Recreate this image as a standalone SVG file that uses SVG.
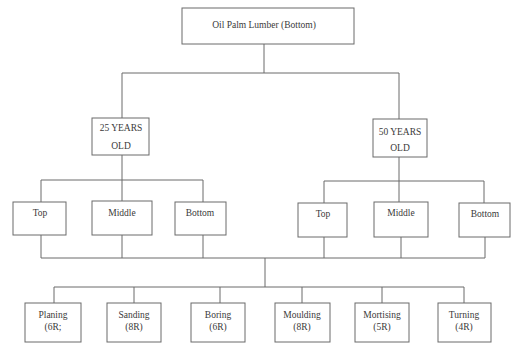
<svg xmlns="http://www.w3.org/2000/svg" width="511" height="343" viewBox="0 0 511 343">
<style>
rect{fill:#fff;stroke:#6a6a6a;stroke-width:1}
.c{fill:none;stroke:#6a6a6a;stroke-width:1}
text{font-family:"Liberation Serif","Times New Roman",serif;font-size:9.5px;fill:#3a3a3a;text-anchor:middle}
</style>
<rect x="0" y="0" width="511" height="343" style="stroke:none"/>
<g id="connectors" class="c">
<path class="c" d="M264 44V73M122 73H399M122 73V118M399 73V119"/>
<path class="c" d="M122 155V180M41 180H203M41 180V202M122 180V201M203 180V202"/>
<path class="c" d="M399 157V181M324 181H484M324 181V203M399 181V202M484 181V203"/>
<path class="c" d="M41 235V258M122 235V258M203 235V258M324 237V258M401 237V258M485 237V258M41 258H485"/>
<path class="c" d="M265 258V287M54 287H464M54 287V303M134 287V303M220 287V303M302 287V303M382 287V303M464 287V303"/>
</g>
<g id="root"><rect x="182" y="8" width="172" height="36"/><text x="264" y="28">Oil Palm Lumber (Bottom)</text></g>
<g id="y25"><rect x="92" y="118" width="57" height="37"/><text x="121" y="131">25 YEARS</text><text x="121" y="149">OLD</text></g>
<g id="y50"><rect x="373" y="119" width="54" height="38"/><text x="400" y="135">50 YEARS</text><text x="400" y="151">OLD</text></g>
<g id="l-top"><rect x="13" y="202" width="53" height="33"/><text x="40" y="216">Top</text></g>
<g id="l-middle"><rect x="92" y="201" width="60" height="34"/><text x="122" y="216">Middle</text></g>
<g id="l-bottom"><rect x="175" y="202" width="51" height="33"/><text x="200" y="216">Bottom</text></g>
<g id="r-top"><rect x="298" y="203" width="49" height="34"/><text x="323" y="217">Top</text></g>
<g id="r-middle"><rect x="374" y="202" width="54" height="35"/><text x="401" y="216">Middle</text></g>
<g id="r-bottom"><rect x="459" y="203" width="51" height="34"/><text x="485" y="217">Bottom</text></g>
<g id="planing"><rect x="25" y="303" width="56" height="39"/><text x="53" y="318">Planing</text><text x="53" y="330">(6R;</text></g>
<g id="sanding"><rect x="107" y="303" width="54" height="39"/><text x="134" y="318">Sanding</text><text x="134" y="330">(8R)</text></g>
<g id="boring"><rect x="191" y="303" width="54" height="39"/><text x="218" y="318">Boring</text><text x="218" y="330">(6R)</text></g>
<g id="moulding"><rect x="275" y="303" width="55" height="39"/><text x="302" y="318">Moulding</text><text x="302" y="330">(8R)</text></g>
<g id="mortising"><rect x="355" y="303" width="54" height="39"/><text x="382" y="318">Mortising</text><text x="382" y="330">(5R)</text></g>
<g id="turning"><rect x="438" y="303" width="53" height="39"/><text x="464" y="318">Turning</text><text x="464" y="330">(4R)</text></g>
</svg>
